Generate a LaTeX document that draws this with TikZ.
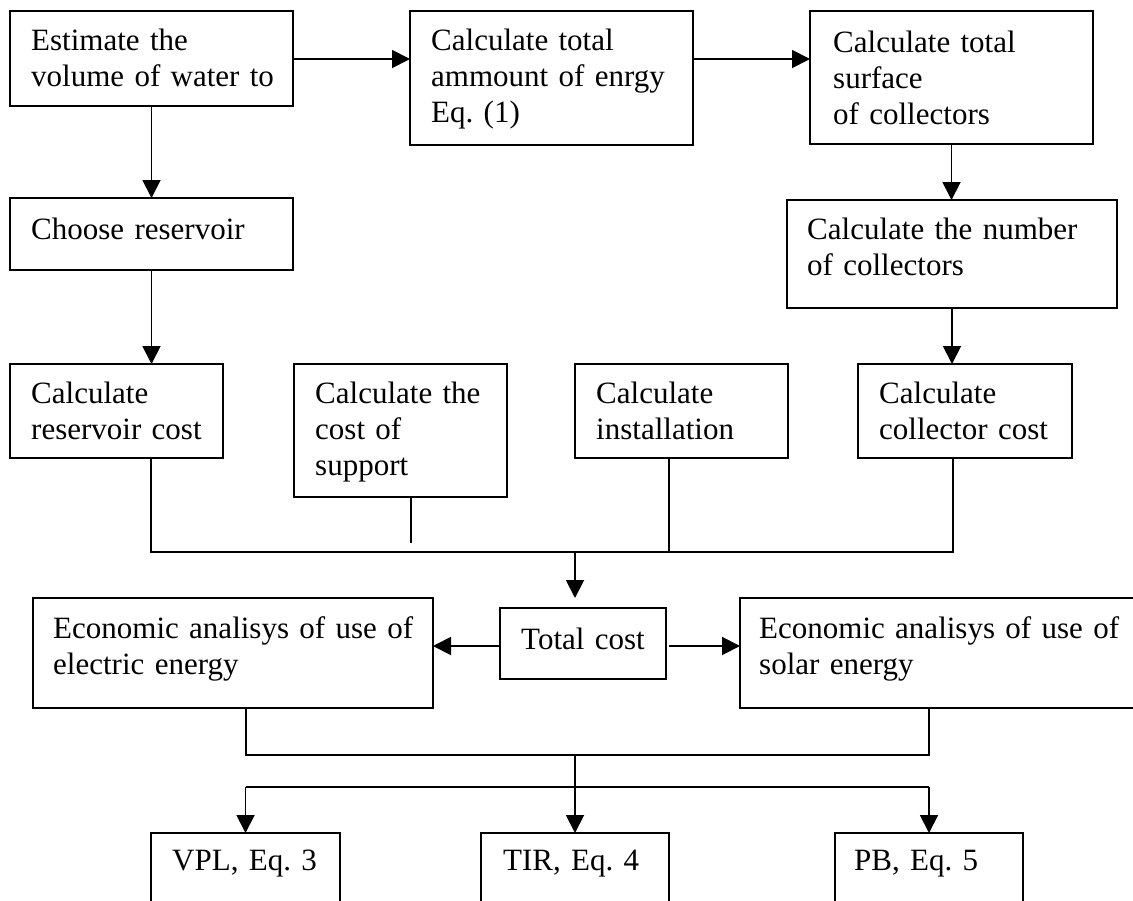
\documentclass[tikz,border=0pt]{standalone}
\usepackage{fontspec}
\setmainfont{Liberation Serif}
\usetikzlibrary{arrows.meta}
\frenchspacing
\begin{document}
\begin{tikzpicture}[x=1pt,y=-1pt,
  box/.style={draw, line width=1.9pt, inner sep=0pt, outer sep=0pt, anchor=north west},
  txt/.style={inner sep=0pt, anchor=base west, align=left, text width=420pt,
              font=\fontsize{31}{36}\selectfont},
  ln/.style={line width=1.9pt},
  arr/.style={line width=1.9pt, -{Triangle[length=18pt,width=18pt]}}]
\useasboundingbox (0,0) rectangle (1133,900);
\clip (0,0) rectangle (1133,900);
% boxes
\node[box, minimum width=283pt, minimum height=95pt]  (est) at (10,11) {};
\node[box, minimum width=283pt, minimum height=134pt] (ene) at (410,11) {};
\node[box, minimum width=283pt, minimum height=133pt] (sur) at (810,11) {};
\node[box, minimum width=283pt, minimum height=72pt]  (cho) at (10,198) {};
\node[box, minimum width=330pt, minimum height=108pt] (num) at (787,200) {};
\node[box, minimum width=213pt, minimum height=94pt]  (res) at (10,364) {};
\node[box, minimum width=213pt, minimum height=133pt] (sup) at (294,364) {};
\node[box, minimum width=213pt, minimum height=94pt]  (ins) at (575,364) {};
\node[box, minimum width=214pt, minimum height=94pt]  (col) at (858,364) {};
\node[box, minimum width=166pt, minimum height=71pt]  (tot) at (500,608) {};
\node[box, minimum width=400pt, minimum height=110pt] (ele) at (33,598) {};
\node[box, minimum width=420pt, minimum height=110pt] (sol) at (740,598) {};
\node[box, minimum width=189pt, minimum height=100pt] (vpl) at (151,833) {};
\node[box, minimum width=188pt, minimum height=100pt] (tir) at (481,833) {};
\node[box, minimum width=188pt, minimum height=100pt] (pb)  at (835,833) {};
% texts
\node[txt] (est-t) at (31,50) {Estimate the\\volume of water to};
\node[txt] (ene-t) at (431,50) {Calculate total\\ammount of enrgy\\Eq. (1)};
\node[txt] (sur-t) at (833,52) {Calculate total\\surface\\of collectors};
\node[txt] (cho-t) at (31,239) {Choose reservoir};
\node[txt] (num-t) at (807,239) {Calculate the number\\of collectors};
\node[txt] (res-t) at (31,403) {Calculate\\reservoir cost};
\node[txt] (sup-t) at (315,403) {Calculate the\\cost of\\support};
\node[txt] (ins-t) at (596,403) {Calculate\\installation};
\node[txt] (col-t) at (879,403) {Calculate\\collector cost};
\node[txt] (tot-t) at (521,649) {Total cost};
\node[txt] (ele-t) at (53,638) {Economic analisys of use of\\electric energy};
\node[txt] (sol-t) at (759,638) {Economic analisys of use of\\solar energy};
\node[txt] (vpl-t) at (172,870) {VPL, Eq. 3};
\node[txt] (tir-t) at (503,870) {TIR, Eq. 4};
\node[txt] (pb-t)  at (854,870) {PB, Eq. 5};
% coordinates for junctions
\coordinate (b1) at (575,552);
\coordinate (b2) at (575,755);
\coordinate (b3) at (575,787);
% top row
\draw[arr] ([yshift=-0.5pt]est.east) -- ([yshift=-0.5pt]est.east -| ene.west);
\draw[arr] ([yshift=-0.5pt]est.east -| ene.east) -- ([yshift=-0.5pt]est.east -| sur.west);
\draw[arr] (est.south) -- (cho.north);
\draw[arr] (cho.south) -- (cho.south |- res.north);
\draw[arr] (sur.south) -- (sur.south |- num.north);
\draw[arr] (num.south) -- (num.south |- col.north);
% first bus
\draw[ln] ([xshift=34.5pt]res.south) |- (b1) -| ([xshift=-12pt]col.south);
\draw[ln] ([xshift=10.5pt]sup.south) -- ([xshift=10.5pt,yshift=9pt]sup.south |- b1);
\draw[ln] ([xshift=-12.5pt]ins.south) -- ([xshift=-12.5pt]ins.south |- b1);
\draw[arr] (b1) -- ([yshift=10pt]b1 |- tot.north);
% total cost
\draw[arr] ([yshift=-2.5pt]tot.west) -- ([yshift=-2.5pt]tot.west -| ele.east);
\draw[arr] ([xshift=3pt,yshift=-2.5pt]tot.east) -- ([yshift=-2.5pt]tot.east -| sol.west);
% second bus
\draw[ln] ([xshift=13pt]ele.south) |- (b2) -| (sol.south -| pb.north);
\draw[arr] (b2) -- (tir.north);
\draw[ln] (b3 -| vpl.north) -- (b3 -| pb.north);
\draw[arr] (b3 -| vpl.north) -- (vpl.north);
\draw[arr] (b3 -| pb.north) -- (pb.north);
\end{tikzpicture}
\end{document}
